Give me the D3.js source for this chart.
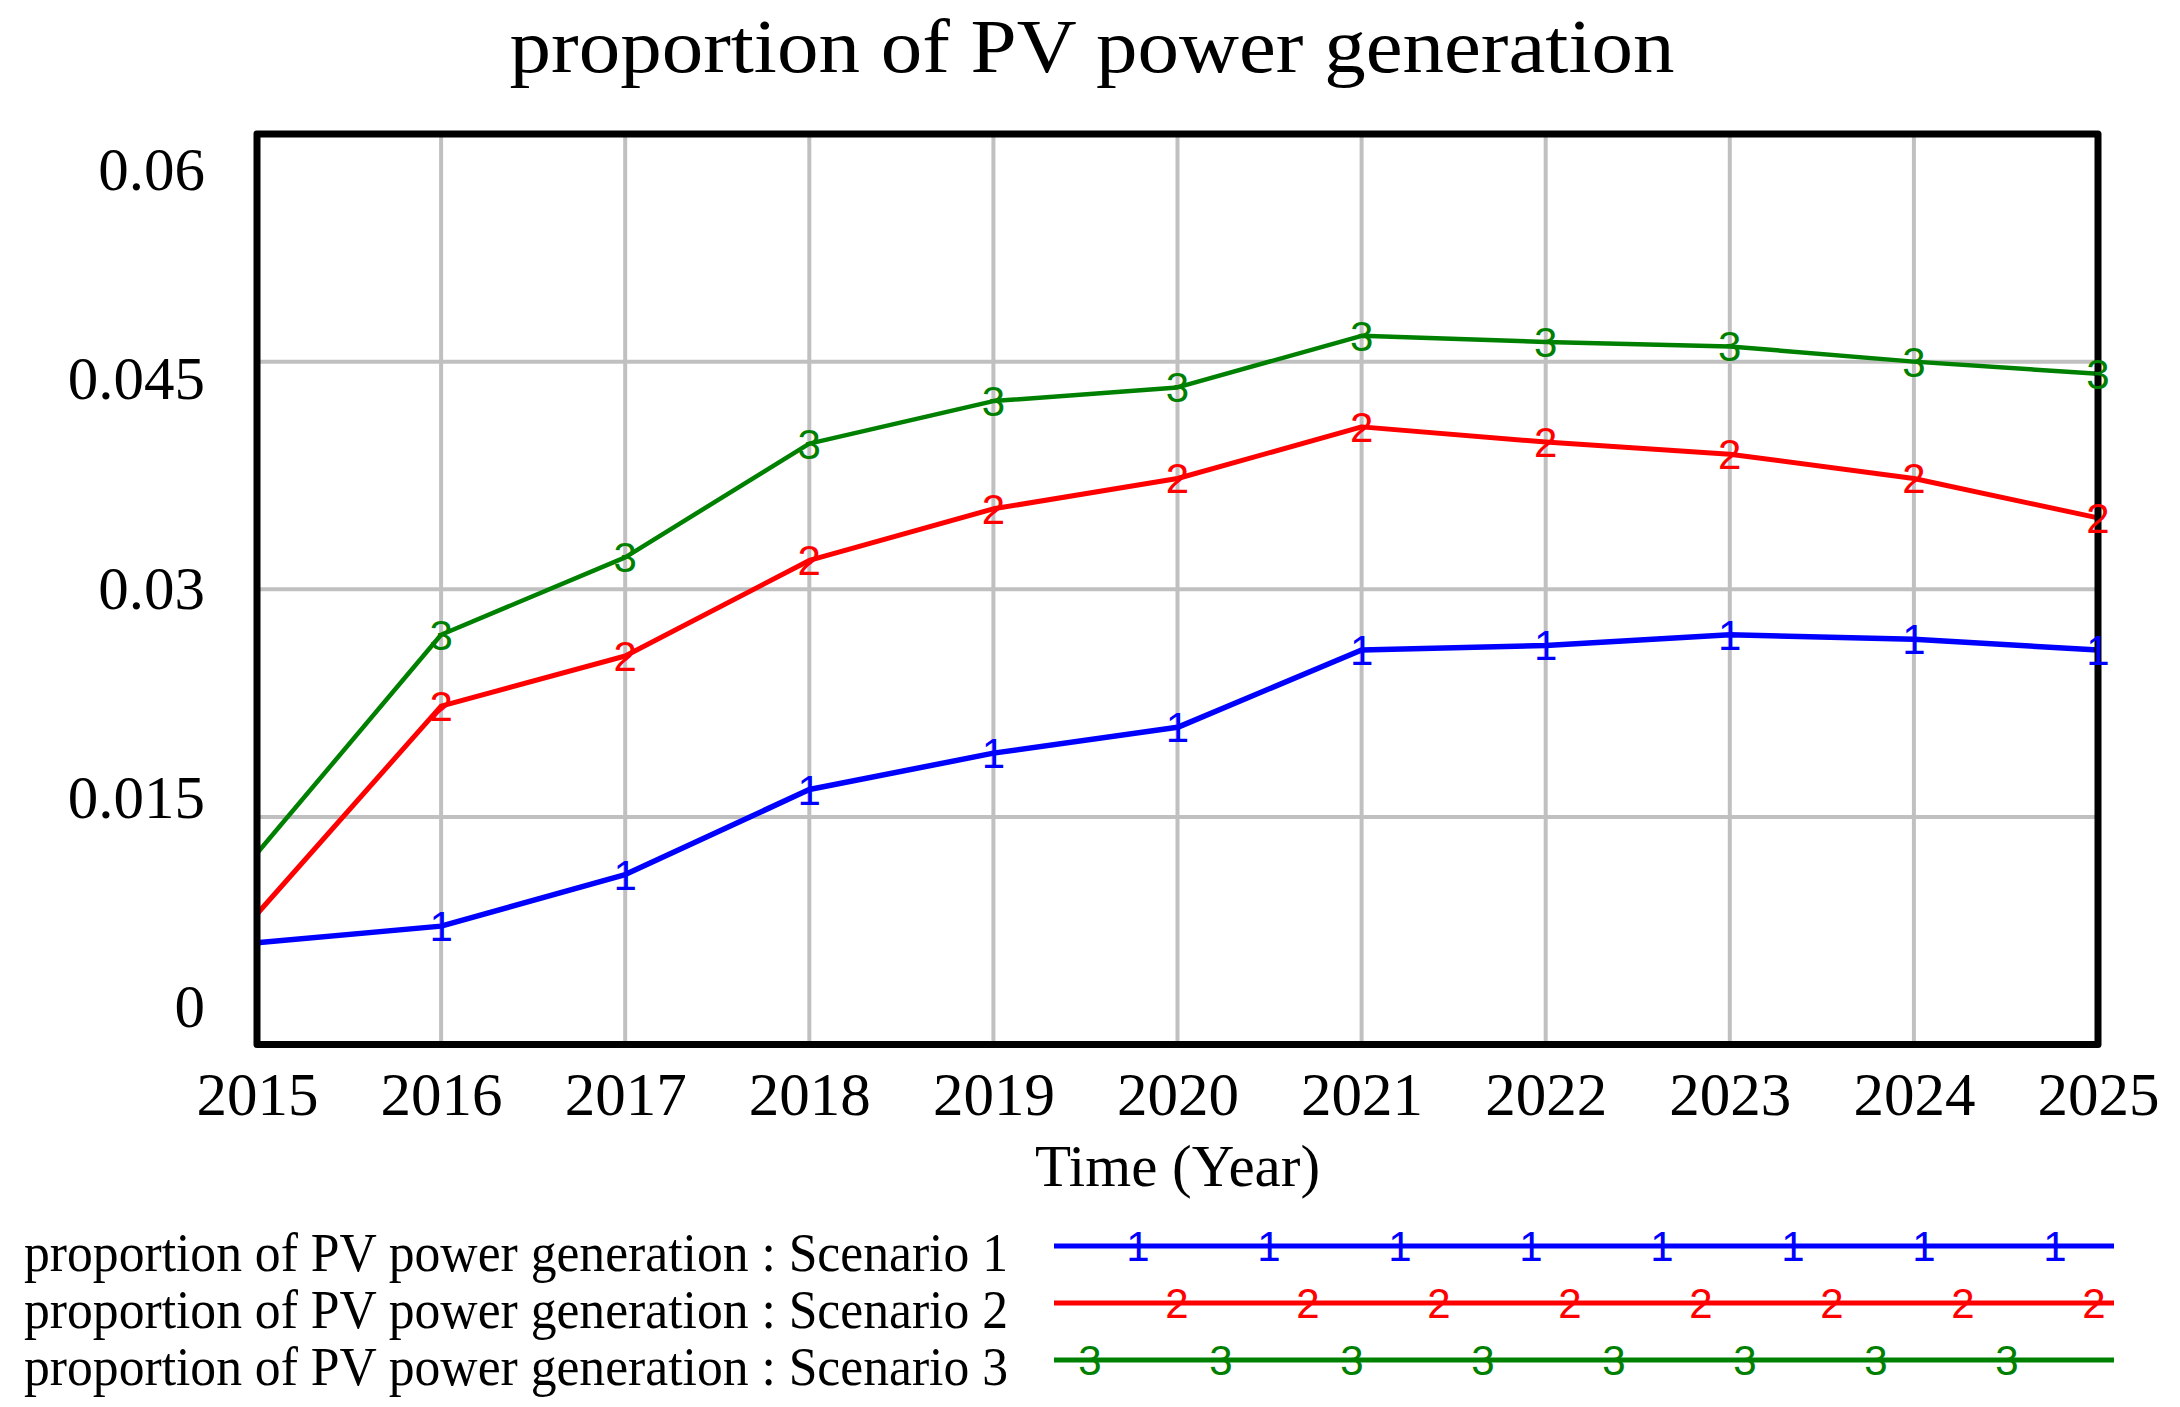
<!DOCTYPE html>
<html>
<head>
<meta charset="utf-8">
<script src="https://cdn.jsdelivr.net/npm/d3@7"></script>
<style>
  body { margin: 0; background: #fff; }
  svg { display: block; }
</style>
</head>
<body>
<script>
const years = [2015, 2016, 2017, 2018, 2019, 2020, 2021, 2022, 2023, 2024, 2025];
const scenario1 = [0.0067, 0.0078, 0.0112, 0.0168, 0.0192, 0.0209, 0.026, 0.0263, 0.027, 0.0267, 0.026];
const scenario2 = [0.0086, 0.0223, 0.0256, 0.0319, 0.0353, 0.0373, 0.0407, 0.0397, 0.0389, 0.0373, 0.0347];
const scenario3 = [0.0126, 0.027, 0.0321, 0.0396, 0.0424, 0.0433, 0.0467, 0.0463, 0.046, 0.045, 0.0442];
const yTicks = [0, 0.015, 0.03, 0.045, 0.06];
const yTickLabels = ["0", "0.015", "0.03", "0.045", "0.06"];
const seriesNames = [
  "proportion of PV power generation : Scenario 1",
  "proportion of PV power generation : Scenario 2",
  "proportion of PV power generation : Scenario 3"
];

const width = 2180;
const height = 1407;
const plotLeft = 257, plotRight = 2098, plotTop = 134, plotBottom = 1044.5;

const series = [
  { name: seriesNames[0], values: scenario1, color: "#0000ff", mark: "1", stroke: 5.5, legendOffset: 84 },
  { name: seriesNames[1], values: scenario2, color: "#ff0000", mark: "2", stroke: 5, legendOffset: 123 },
  { name: seriesNames[2], values: scenario3, color: "#008000", mark: "3", stroke: 4.5, legendOffset: 36 }
];

const svg = d3.select("body").append("svg")
  .attr("width", width)
  .attr("height", height)
  .style("font-family", "'Liberation Serif', 'Times New Roman', serif");

svg.append("rect").attr("width", width).attr("height", height).attr("fill", "#fff");

const x = d3.scaleLinear().domain([2015, 2025]).range([plotLeft, plotRight]);
const y = d3.scaleLinear().domain([0, 0.06]).range([plotBottom, plotTop]);
// tick labels in the original are spread a bit tighter than the grid
const yLabel = d3.scaleLinear().domain([0, 0.06]).range([1027, 190]);

// title
svg.append("text")
  .attr("x", 1092)
  .attr("y", 72)
  .attr("text-anchor", "middle")
  .attr("font-size", 76)
  .attr("textLength", 1165)
  .attr("lengthAdjust", "spacingAndGlyphs")
  .text("proportion of PV power generation");

// grid
const grid = svg.append("g");
grid.selectAll(".vgrid").data(years.slice(1, -1)).enter().append("line")
  .attr("x1", d => x(d)).attr("x2", d => x(d))
  .attr("y1", plotTop).attr("y2", plotBottom)
  .attr("stroke", "#c0c0c0").attr("stroke-width", 4);
grid.selectAll(".hgrid").data(yTicks.slice(1, -1)).enter().append("line")
  .attr("x1", plotLeft).attr("x2", plotRight)
  .attr("y1", d => y(d)).attr("y2", d => y(d))
  .attr("stroke", "#c0c0c0").attr("stroke-width", 4);

// lines
const line = d3.line().x((d, i) => x(years[i])).y(d => y(d));
svg.selectAll(".series").data(series).enter().append("path")
  .attr("d", s => line(s.values))
  .attr("fill", "none")
  .attr("stroke", s => s.color)
  .attr("stroke-width", s => s.stroke)
  .attr("stroke-linejoin", "round");

// frame
svg.append("rect")
  .attr("x", plotLeft).attr("y", plotTop)
  .attr("width", plotRight - plotLeft).attr("height", plotBottom - plotTop)
  .attr("fill", "none")
  .attr("stroke", "#000")
  .attr("stroke-width", 7)
  .attr("stroke-linejoin", "round");

// markers on the data points
series.forEach(s => {
  svg.append("g").selectAll("text").data(s.values.slice(1)).enter().append("text")
    .attr("x", (d, i) => x(years[i + 1]))
    .attr("y", d => y(d) + 15)
    .attr("text-anchor", "middle")
    .attr("font-family", "'Liberation Sans', Arial, sans-serif")
    .attr("font-size", 42)
    .attr("fill", s.color)
    .text(s.mark);
});

// x axis labels
const xAxis = d3.axisBottom(x).tickValues(years).tickFormat(d3.format("d")).tickSize(0);
const xg = svg.append("g").attr("transform", `translate(0,${plotBottom})`).call(xAxis);
xg.select(".domain").remove();
xg.selectAll("text")
  .attr("y", 70.5).attr("dy", 0)
  .attr("font-family", "'Liberation Serif', 'Times New Roman', serif")
  .attr("font-size", 61)
  .attr("fill", "#000");

// y axis labels
svg.selectAll(".ylabel").data(yTicks).enter().append("text")
  .attr("x", 205)
  .attr("y", d => yLabel(d))
  .attr("text-anchor", "end")
  .attr("font-size", 61)
  .text((d, i) => yTickLabels[i]);

svg.append("text")
  .attr("x", (plotLeft + plotRight) / 2)
  .attr("y", 1186)
  .attr("text-anchor", "middle")
  .attr("font-size", 59)
  .text("Time (Year)");

// legend
const legendY = [1246, 1303, 1360];
const legendX0 = 1054, legendX1 = 2114, legendStep = 131;
series.forEach((s, i) => {
  const g = svg.append("g");
  g.append("text")
    .attr("x", 24)
    .attr("y", legendY[i] + 25)
    .attr("font-size", 54)
    .attr("textLength", 984)
    .attr("lengthAdjust", "spacingAndGlyphs")
    .text(s.name);
  g.append("line")
    .attr("x1", legendX0).attr("x2", legendX1)
    .attr("y1", legendY[i]).attr("y2", legendY[i])
    .attr("stroke", s.color)
    .attr("stroke-width", 5);
  g.selectAll(".lm").data(d3.range(8)).enter().append("text")
    .attr("x", k => legendX0 + s.legendOffset + k * legendStep)
    .attr("y", legendY[i] + 15)
    .attr("text-anchor", "middle")
    .attr("font-family", "'Liberation Sans', Arial, sans-serif")
    .attr("font-size", 42)
    .attr("fill", s.color)
    .text(s.mark);
});
</script>
</body>
</html>
